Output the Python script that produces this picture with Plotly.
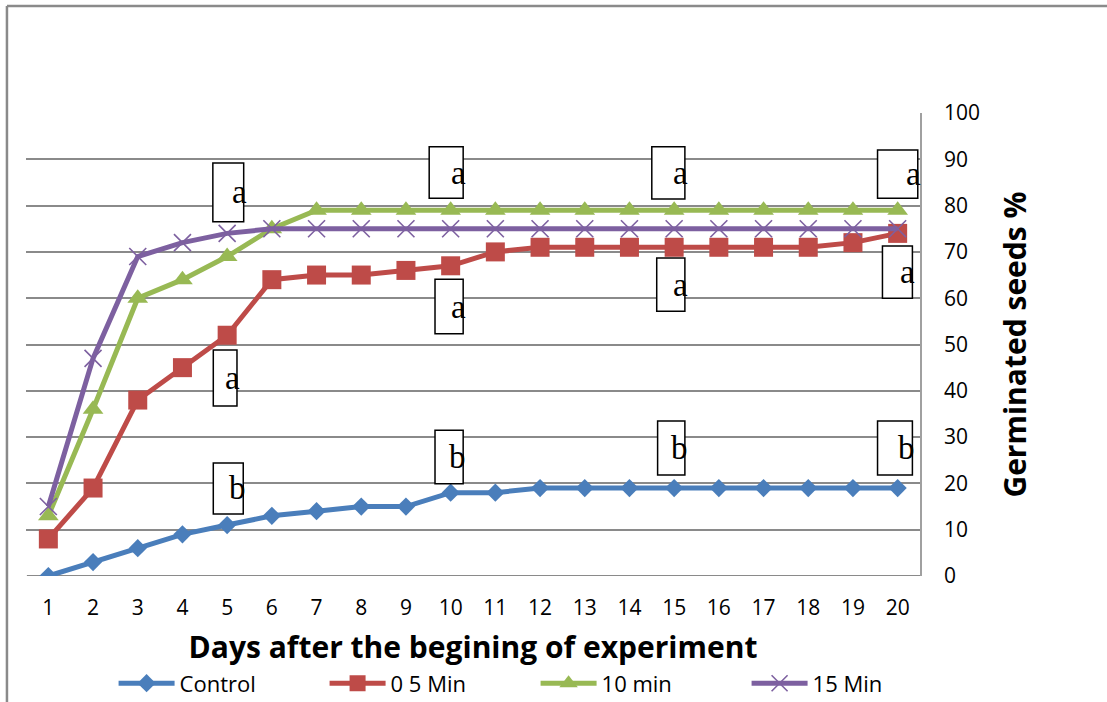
import plotly.graph_objects as go

days = list(range(1, 21))
control = [0, 3, 6, 9, 11, 13, 14, 15, 15, 18, 18, 19, 19, 19, 19, 19, 19, 19, 19, 19]
min05 = [8, 19, 38, 45, 52, 64, 65, 65, 66, 67, 70, 71, 71, 71, 71, 71, 71, 71, 72, 74]
min10 = [13, 36, 60, 64, 69, 75, 79, 79, 79, 79, 79, 79, 79, 79, 79, 79, 79, 79, 79, 79]
min15 = [15, 47, 69, 72, 74, 75, 75, 75, 75, 75, 75, 75, 75, 75, 75, 75, 75, 75, 75, 75]

series_names = ["Control", "0 5 Min", "10 min", "15 Min"]
y_ticks = [0, 10, 20, 30, 40, 50, 60, 70, 80, 90, 100]

# significance letter boxes (day range, value range)
label_text = ["a", "a", "b", "a", "a", "b", "a", "a", "b", "a", "a", "b"]
label_x0 = [4.68, 4.69, 4.69, 9.52, 9.65, 9.65, 14.50, 14.61, 14.63, 19.55, 19.66, 19.55]
label_x1 = [5.37, 5.22, 5.36, 10.28, 10.28, 10.28, 15.24, 15.24, 15.24, 20.45, 20.33, 20.33]
label_y0 = [76.5, 36.7, 13.4, 81.6, 52.3, 19.9, 81.4, 57.2, 21.8, 81.6, 60.0, 21.8]
label_y1 = [89.2, 48.8, 24.4, 92.7, 64.1, 31.5, 92.7, 68.7, 33.5, 92.0, 71.3, 33.5]

colors = ["#4A7EBB", "#BE4B48", "#98B954", "#7D60A0"]
symbols = ["diamond", "square", "triangle-up", "x-thin"]
sizes = [14, 19, 18, 17]
data = [control, min05, min10, min15]

fig = go.Figure()
for name, vals, c, s, sz in zip(series_names, data, colors, symbols, sizes):
    marker = dict(symbol=s, size=sz, color=c)
    if s == "x-thin":
        marker["line"] = dict(color=c, width=1.6)
    fig.add_trace(go.Scatter(
        x=days, y=vals, name=name, mode="lines+markers",
        line=dict(color=c, width=5), marker=marker,
    ))

for t, x0, x1, y0, y1 in zip(label_text, label_x0, label_x1, label_y0, label_y1):
    fig.add_shape(type="rect", xref="x", yref="y", x0=x0, x1=x1, y0=y0, y1=y1,
                  line=dict(color="black", width=1.5), fillcolor="white", layer="above")
    fig.add_annotation(x=x1, y=(y0 + y1) / 2, xref="x", yref="y", text=t,
                       showarrow=False, xanchor="right", yanchor="middle", xshift=5,
                       font=dict(family="Liberation Serif", size=33, color="black"))

# outer chart frame (left and top edges)
fig.add_shape(type="line", xref="paper", yref="paper", x0=-0.0213, x1=-0.0213, y0=1.231, y1=-0.30,
              line=dict(color="#8a8a8a", width=2.5))
fig.add_shape(type="line", xref="paper", yref="paper", x0=-0.0213, x1=1.25, y0=1.231, y1=1.231,
              line=dict(color="#8a8a8a", width=2.5))

font_family = "Open Sans"
fig.update_layout(
    width=1107, height=702,
    margin=dict(l=26, r=187, t=113, b=126, autoexpand=False),
    paper_bgcolor="white", plot_bgcolor="white",
    font=dict(family=font_family, size=21, color="black"),
    showlegend=True,
    legend=dict(orientation="h", x=0.57, xanchor="center", y=-0.232, yanchor="middle",
                font=dict(family=font_family, size=22, color="black"),
                entrywidth=140, itemwidth=56, tracegroupgap=0, bgcolor="rgba(0,0,0,0)"),
    xaxis=dict(range=[0.5, 20.5], tickmode="array", tickvals=days, ticktext=[str(d) for d in days],
               showgrid=False, zeroline=False, showline=False, ticks="", automargin=False,
               ticklabelstandoff=17,
               tickfont=dict(family=font_family, size=21),
               title=dict(text="<b>Days after the begining of experiment</b>",
                          font=dict(family=font_family, size=30), standoff=16)),
    yaxis=dict(range=[0, 100], side="right", tickmode="array", tickvals=y_ticks,
               showgrid=True, gridcolor="#8a8a8a", gridwidth=1.8, zeroline=False,
               showline=True, linecolor="#a0a0a0", linewidth=1.5, ticks="", automargin=False,
               ticklabelstandoff=18,
               tickfont=dict(family=font_family, size=21),
               title=dict(text="<b>Germinated seeds %</b>",
                          font=dict(family=font_family, size=30), standoff=26)),
)
# ensure baseline gridline at 0 is visible
fig.add_shape(type="line", xref="paper", yref="y", x0=0.001, x1=1, y0=0, y1=0,
              line=dict(color="#8a8a8a", width=1.8), layer="below")

fig.write_html("out.html", config={"displayModeBar": False},
               post_script="document.body.style.margin='0';document.body.style.overflow='hidden';")
